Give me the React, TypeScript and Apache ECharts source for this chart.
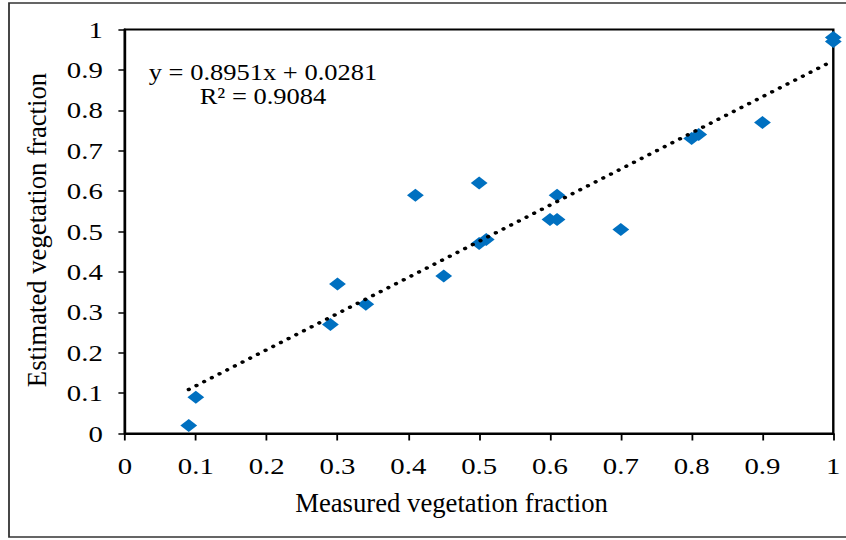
import React, { useEffect, useRef } from "react";
import * as echarts from "echarts";

// ---- data ----
const measured = [0.09, 0.1, 0.29, 0.3, 0.34, 0.41, 0.45, 0.5, 0.5, 0.51, 0.6, 0.61, 0.61, 0.7, 0.8, 0.81, 0.9, 1.0, 1.0];
const estimated = [0.02, 0.09, 0.27, 0.37, 0.32, 0.59, 0.39, 0.62, 0.47, 0.48, 0.53, 0.53, 0.59, 0.505, 0.73, 0.74, 0.77, 0.98, 0.97];
const trendX = [0.09, 1.0];
const trendY = [0.109, 0.923];
const xTickLabels = ["0", "0.1", "0.2", "0.3", "0.4", "0.5", "0.6", "0.7", "0.8", "0.9", "1"];
const yTickLabels = ["0", "0.1", "0.2", "0.3", "0.4", "0.5", "0.6", "0.7", "0.8", "0.9", "1"];
const eqLine1 = "y = 0.8951x + 0.0281";
const eqLine2 = "R² = 0.9084";
const xTitle = "Measured vegetation fraction";
const yTitle = "Estimated vegetation fraction";

const SX = 1.2; // horizontal stretch of the reference
const W = 846 / SX;
const H = 540;
const FONT = "Liberation Serif";

export default function App() {
  const ref = useRef<HTMLDivElement>(null);
  useEffect(() => {
    if (!ref.current) return;
    const chart = echarts.init(ref.current, undefined, { renderer: "svg", width: W, height: H });
    const tickIndex = (v: number) => Math.round(v * 10);
    chart.setOption({
      animation: false,
      backgroundColor: "#fff",
      grid: {
        left: 125 / SX,
        right: (846 - 833.3) / SX,
        top: 29.5,
        bottom: 106.5,
        show: true,
        borderColor: "#000",
        borderWidth: 2,
        containLabel: false,
        outerBoundsMode: "none",
      },
      xAxis: {
        type: "value",
        min: 0,
        max: 1,
        interval: 0.1,
        splitLine: { show: false },
        axisLine: { show: true, onZero: false, lineStyle: { color: "#000", width: 2 } },
        axisTick: { show: true, length: 7, lineStyle: { color: "#000", width: 1.5 } },
        axisLabel: {
          margin: 20.3,
          fontSize: 24,
          fontFamily: FONT,
          color: "#000",
          formatter: (v: number) => xTickLabels[tickIndex(v)] ?? "",
        },
      },
      yAxis: {
        type: "value",
        min: 0,
        max: 1,
        interval: 0.1,
        splitLine: { show: false },
        axisLine: { show: true, onZero: false, lineStyle: { color: "#000", width: 2 } },
        axisTick: { show: true, length: 5.5, lineStyle: { color: "#000", width: 1.5 } },
        axisLabel: {
          margin: 18.5,
          fontSize: 24,
          fontFamily: FONT,
          color: "#000",
          formatter: (v: number) => yTickLabels[tickIndex(v)] ?? "",
        },
      },
      series: [
        {
          type: "scatter",
          data: measured.map((x, i) => [x, estimated[i]]),
          symbol: "diamond",
          symbolSize: [14, 13],
          itemStyle: { color: "#0070C0", opacity: 1 },
          z: 2,
        },
        {
          type: "line",
          data: trendX.map((x, i) => [x, trendY[i]]),
          showSymbol: false,
          symbol: "none",
          lineStyle: { color: "#000", width: 3.5, type: [0.1, 7.4], cap: "round" },
          z: 3,
        },
      ],
      graphic: [
        {
          type: "rect",
          silent: true,
          z: -10,
          shape: { x: 9 / SX, y: 3, width: (850 - 9) / SX, height: 534 },
          style: { fill: "none", stroke: "#333", lineWidth: 1.5 },
        },
        {
          type: "text",
          x: 263 / SX,
          y: 72.5,
          scaleX: 0.96,
          style: { text: eqLine1, fontSize: 23, fontFamily: FONT, fill: "#000", align: "center", verticalAlign: "middle" },
        },
        {
          type: "text",
          x: 263 / SX,
          y: 96,
          scaleX: 0.96,
          style: { text: eqLine2, fontSize: 23, fontFamily: FONT, fill: "#000", align: "center", verticalAlign: "middle" },
        },
        {
          type: "text",
          x: 451.5 / SX,
          y: 503,
          scaleX: 1 / SX,
          style: { text: xTitle, fontSize: 26.7, fontFamily: FONT, fill: "#000", align: "center", verticalAlign: "middle" },
        },
        {
          type: "text",
          x: 37.5 / SX,
          y: 230,
          rotation: Math.PI / 2,
          scaleY: 1 / SX,
          style: { text: yTitle, fontSize: 26.7, fontFamily: FONT, fill: "#000", align: "center", verticalAlign: "middle" },
        },
      ],
    });
    return () => chart.dispose();
  }, []);

  return (
    <div style={{ position: "absolute", left: 0, top: 0, width: 846, height: 540, overflow: "hidden", background: "#fff" }}>
      <div
        ref={ref}
        style={{ width: W, height: H, transform: `scaleX(${SX})`, transformOrigin: "0 0" }}
      />
    </div>
  );
}
